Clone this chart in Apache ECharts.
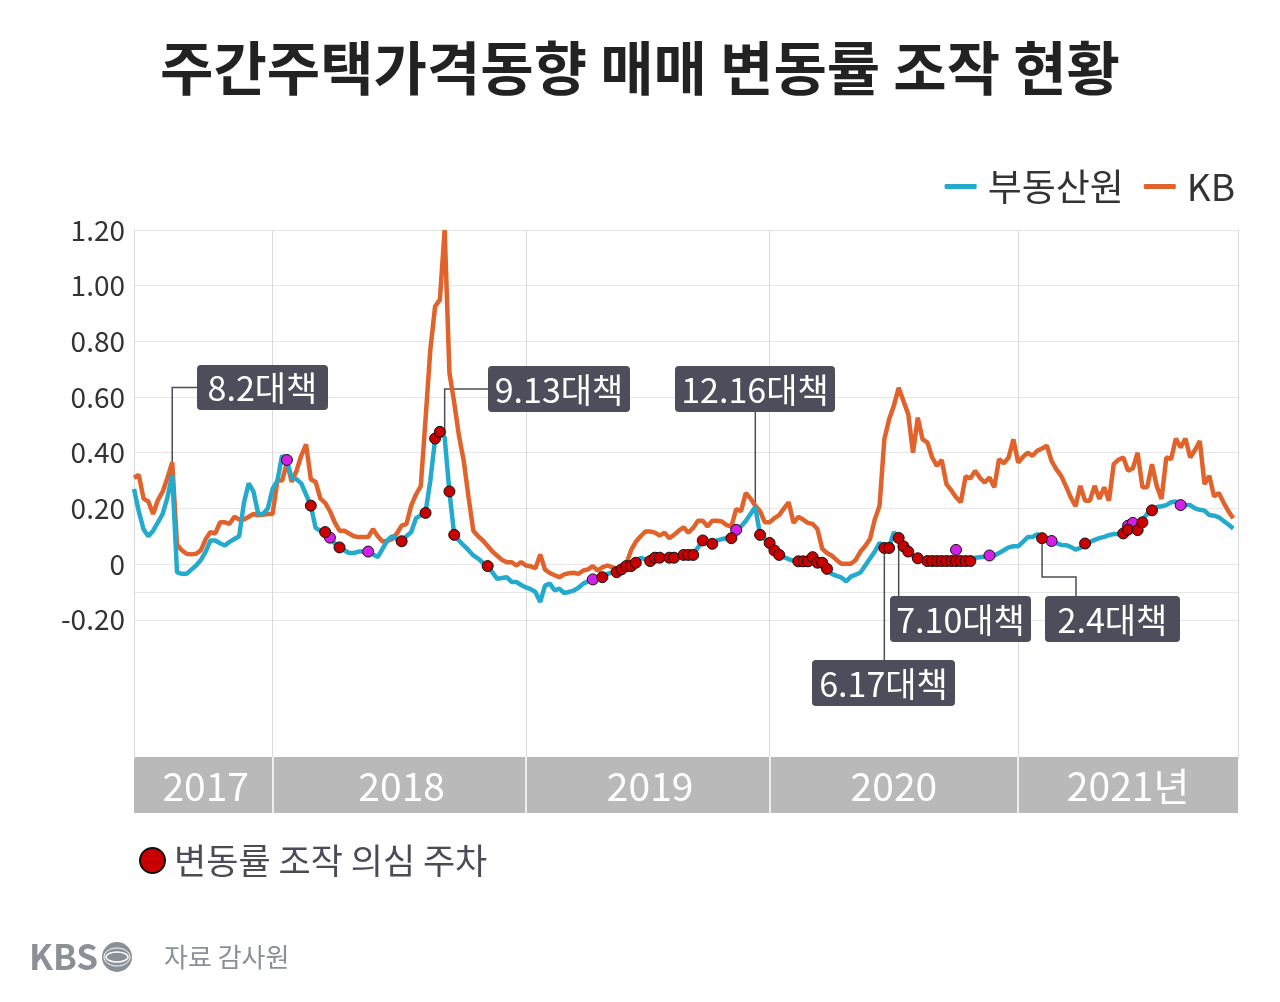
<!DOCTYPE html>
<html><head><meta charset="utf-8">
<script src="https://cdn.jsdelivr.net/npm/echarts@6/dist/echarts.min.js"></script>
<style>html,body{margin:0;padding:0;background:#fff}#c{width:1280px;height:1002px}</style>
</head><body><div id="c"></div>
<script>
// ---------- data ----------
const startDate = '2017-06-12';
const weekCount = 232;
const yearBreaks = [0, 29, 82, 133, 185, 231];
const yearLabels = ['2017', '2018', '2019', '2020', '2021년'];
const yearLabelIdx = [15, 56, 108, 159, 208];
const yLabels = [1.2, 1.0, 0.8, 0.6, 0.4, 0.2, 0, -0.2];
const gridLines = [1.2, 1.0, 0.8, 0.6, 0.4, 0.2, 0, -0.1, -0.2];

// 부동산원 weekly change (%)
const reb = [
 0.27,0.19,0.125,0.10,0.12,0.15,0.18,0.24,0.32,-0.03,
 -0.035,-0.035,-0.02,-0.005,0.015,0.045,0.085,0.085,0.075,0.067,
 0.08,0.09,0.10,0.22,0.29,0.26,0.18,0.18,0.20,0.27,
 0.30,0.39,0.37,0.31,0.305,0.29,0.25,0.21,0.13,0.12,
 0.115,0.095,0.075,0.06,0.05,0.04,0.04,0.045,0.045,0.045,
 0.035,0.025,0.055,0.085,0.10,0.09,0.085,0.10,0.115,0.165,
 0.175,0.186,0.30,0.448,0.472,0.455,0.26,0.105,0.085,0.067,
 0.05,0.031,0.02,0.005,-0.008,-0.03,-0.053,-0.05,-0.047,-0.064,
 -0.064,-0.075,-0.084,-0.09,-0.10,-0.136,-0.077,-0.07,-0.094,-0.088,
 -0.104,-0.10,-0.095,-0.085,-0.07,-0.062,-0.055,-0.05,-0.045,-0.036,
 -0.03,-0.027,-0.017,-0.007,-0.005,0.007,0.022,0.018,0.012,0.023,
 0.023,0.03,0.023,0.023,0.03,0.033,0.033,0.035,0.06,0.085,
 0.08,0.073,0.085,0.09,0.093,0.093,0.123,0.135,0.155,0.18,
 0.205,0.105,0.09,0.075,0.05,0.033,0.025,0.018,0.012,0.01,
 0.01,0.01,0.025,0.005,0.005,-0.017,-0.035,-0.042,-0.048,-0.062,
 -0.045,-0.038,-0.03,-0.005,0.02,0.045,0.076,0.061,0.061,0.115,
 0.094,0.064,0.045,0.03,0.021,0.013,0.011,0.011,0.011,0.011,
 0.011,0.011,0.011,0.011,0.011,0.011,0.023,0.025,0.027,0.03,
 0.031,0.04,0.05,0.06,0.064,0.064,0.08,0.097,0.097,0.108,
 0.094,0.09,0.083,0.075,0.069,0.068,0.062,0.052,0.058,0.073,
 0.08,0.087,0.093,0.098,0.104,0.108,0.108,0.112,0.125,0.135,
 0.14,0.158,0.18,0.196,0.205,0.208,0.212,0.222,0.225,0.212,
 0.212,0.212,0.20,0.195,0.192,0.176,0.174,0.168,0.155,0.142,
 0.128
];

// KB weekly change (%)
const kb = [
 0.31,0.32,0.235,0.225,0.18,0.23,0.26,0.31,0.365,0.07,
 0.05,0.037,0.035,0.037,0.05,0.09,0.115,0.11,0.15,0.15,
 0.145,0.17,0.16,0.16,0.17,0.18,0.175,0.177,0.18,0.18,
 0.30,0.30,0.365,0.295,0.335,0.39,0.43,0.305,0.295,0.235,
 0.22,0.19,0.15,0.12,0.12,0.11,0.10,0.097,0.097,0.097,
 0.126,0.10,0.081,0.083,0.09,0.11,0.138,0.144,0.21,0.25,
 0.28,0.52,0.77,0.925,0.95,1.20,0.687,0.58,0.46,0.37,
 0.24,0.12,0.10,0.085,0.065,0.045,0.03,0.015,0.007,0.007,
 -0.005,0.007,-0.005,-0.008,-0.015,0.035,-0.02,-0.032,-0.04,-0.047,
 -0.037,-0.033,-0.031,-0.035,-0.023,-0.019,-0.007,-0.023,-0.012,-0.005,
 -0.011,-0.017,-0.01,0.0,0.05,0.08,0.10,0.117,0.117,0.113,
 0.102,0.113,0.093,0.105,0.12,0.132,0.113,0.13,0.156,0.156,
 0.135,0.156,0.156,0.153,0.14,0.135,0.198,0.19,0.255,0.236,
 0.21,0.19,0.15,0.15,0.165,0.176,0.20,0.222,0.148,0.17,
 0.16,0.148,0.144,0.126,0.055,0.04,0.03,0.015,0.001,0.001,
 0.001,0.015,0.045,0.065,0.09,0.16,0.21,0.448,0.52,0.57,
 0.633,0.586,0.538,0.40,0.526,0.448,0.437,0.383,0.353,0.374,
 0.287,0.265,0.24,0.222,0.315,0.308,0.335,0.31,0.293,0.311,
 0.276,0.377,0.362,0.383,0.448,0.365,0.385,0.40,0.389,0.407,
 0.415,0.425,0.37,0.34,0.317,0.28,0.24,0.208,0.281,0.228,
 0.228,0.281,0.234,0.276,0.228,0.359,0.375,0.383,0.335,0.344,
 0.40,0.276,0.276,0.359,0.28,0.234,0.383,0.377,0.451,0.419,
 0.451,0.383,0.41,0.442,0.287,0.317,0.243,0.255,0.22,0.19,
 0.165
];

// suspected weeks [weekIndex, value]
const redDots = [
 [37,0.21],[40,0.115],[43,0.06],[56,0.082],[61,0.184],[63,0.451],[64,0.475],[66,0.261],[67,0.105],[74,-0.007],
 [98,-0.047],[101,-0.029],[102,-0.019],[103,-0.007],[104,-0.007],[105,0.005],[108,0.011],[109,0.023],[110,0.023],
 [112,0.023],[113,0.023],[115,0.033],[116,0.033],[117,0.033],[119,0.085],[121,0.073],[125,0.093],
 [131,0.105],[133,0.076],[134,0.049],[135,0.033],[139,0.01],[140,0.01],[141,0.01],[142,0.025],[143,0.005],
 [144,0.005],[145,-0.017],
 [157,0.058],[158,0.058],[160,0.094],[161,0.064],[162,0.045],[164,0.021],
 [166,0.011],[167,0.011],[168,0.011],[169,0.011],[170,0.011],[171,0.011],[172,0.011],[173,0.011],[174,0.011],[175,0.011],
 [190,0.093],[199,0.074],[207,0.11],[208,0.124],[210,0.122],[211,0.15],[213,0.193]
];
const magentaDots = [
 [32,0.374],[41,0.095],[49,0.045],[96,-0.055],[126,0.123],[172,0.051],[179,0.031],
 [192,0.083],[208,0.138],[209,0.148],[219,0.212]
];

// policy annotations
const policies = [
 {text:'8.2대책',  series:'kb',  idx:8,   box:[197,365,131,45], path:'upRight'},
 {text:'9.13대책', series:'reb', idx:65,  box:[488,366,142,46], path:'upRight'},
 {text:'12.16대책',series:'reb', idx:130, box:[675,366,160,46], path:'up'},
 {text:'6.17대책', series:'reb', idx:157, box:[812,660,143,46], path:'down'},
 {text:'7.10대책', series:'reb', idx:160, box:[890,596,141,46], path:'down'},
 {text:'2.4대책',  series:'reb', idx:190, box:[1045,596,135,46], path:'elbow', elbowY:577, elbowX:1076}
];

// ---------- build ----------
const categories = [];
{
  const d0 = new Date(startDate + 'T00:00:00Z');
  for (let i = 0; i < weekCount; i++) {
    const d = new Date(d0.getTime() + i * 7 * 86400000);
    categories.push(d.toISOString().slice(0, 10));
  }
}
const CJK = '"Noto Sans CJK KR", sans-serif';
const yMin = -0.7, yMax = 1.2, yStep = 0.1;
const splitColors = [];
for (let k = 0; k <= Math.round((yMax - yMin) / yStep); k++) {
  const v = yMin + k * yStep;
  splitColors.push(gridLines.some(g => Math.abs(g - v) < 1e-6) ? '#e6e6e6' : 'rgba(0,0,0,0)');
}
const BLUE = '#24aacd', ORANGE = '#e1622a';

const chart = echarts.init(document.getElementById('c'), null, {renderer: 'canvas'});
chart.setOption({
  animation: false,
  backgroundColor: '#ffffff',
  title: {
    text: '주간주택가격동향 매매 변동률 조작 현황',
    left: 'center', top: 34,
    textStyle: {fontSize: 58, fontWeight: 'bold', color: '#222222', fontFamily: CJK}
  },
  legend: [
    {
      data: ['부동산원', 'KB'], right: 40, top: 163,
      icon: 'roundRect', itemWidth: 32, itemHeight: 5, itemGap: 20,
      textStyle: {fontSize: 37, color: '#333333', fontFamily: CJK, padding: [0, 0, 0, 6]}
    },
    {
      data: ['변동률 조작 의심 주차'], left: 134, top: 838,
      itemWidth: 25, itemHeight: 25,
      textStyle: {fontSize: 35, color: '#4b4b57', fontFamily: CJK, padding: [0, 0, 0, 4]}
    }
  ],
  grid: [
    {left: 134, right: 42, top: 230, bottom: 243},
    {left: 134, right: 42, top: 757, height: 56, show: true, backgroundColor: '#b9b9b9', borderWidth: 0}
  ],
  xAxis: [
    {
      type: 'category', gridIndex: 0, data: categories, boundaryGap: false,
      axisLine: {show: false}, axisTick: {show: false}, axisLabel: {show: false},
      splitLine: {show: true, interval: (i) => yearBreaks.indexOf(i) >= 0, lineStyle: {color: '#d9d9d9', width: 1}}
    },
    {
      type: 'category', gridIndex: 1, data: categories, boundaryGap: false, position: 'bottom',
      axisLine: {show: false}, axisTick: {show: false},
      axisLabel: {
        show: true, inside: true, margin: 27, verticalAlign: 'middle',
        interval: (i) => yearLabelIdx.indexOf(i) >= 0,
        formatter: (v, i) => { const k = yearLabelIdx.indexOf(i); return k >= 0 ? yearLabels[k] : ''; },
        color: '#ffffff', fontSize: 39, fontFamily: CJK
      },
      splitLine: {show: true, interval: (i) => yearBreaks.indexOf(i) > 0 && i < weekCount - 1, lineStyle: {color: '#ffffff', width: 1.5}}
    }
  ],
  yAxis: [
    {
      type: 'value', gridIndex: 0, min: yMin, max: yMax, interval: yStep,
      axisLine: {show: false}, axisTick: {show: false},
      axisLabel: {
        margin: 9, color: '#333333', fontSize: 28, fontFamily: CJK,
        formatter: (v) => {
          const hit = yLabels.find(l => Math.abs(l - v) < 1e-6);
          if (hit === undefined) return '';
          return Math.abs(hit) < 1e-9 ? '0' : hit.toFixed(2);
        }
      },
      splitLine: {show: true, lineStyle: {color: splitColors, width: 1}}
    },
    {type: 'value', gridIndex: 1, min: 0, max: 1, show: false}
  ],
  series: [
    {name: 'KB', type: 'line', data: kb, symbol: 'none', lineStyle: {color: ORANGE, width: 4.5}, itemStyle: {color: ORANGE}, z: 2},
    {name: '부동산원', type: 'line', data: reb, symbol: 'none', lineStyle: {color: BLUE, width: 4.5}, itemStyle: {color: BLUE}, z: 3},
    {name: '기타 표시 주차', type: 'scatter', data: magentaDots, symbolSize: 11,
     itemStyle: {color: '#d41fe8', borderColor: '#111111', borderWidth: 1, opacity: 1}, z: 4},
    {name: '변동률 조작 의심 주차', type: 'scatter', data: redDots, symbolSize: 11,
     itemStyle: {color: '#c90000', borderColor: '#111111', borderWidth: 1, opacity: 1}, z: 5}
  ]
});

// annotations anchored to data via the library's own scales
const seriesData = {reb: reb, kb: kb};
const g = [];
policies.forEach(p => {
  const [ax, ay] = chart.convertToPixel({xAxisIndex: 0, yAxisIndex: 0}, [p.idx, seriesData[p.series][p.idx]]);
  const [bx, by, bw, bh] = p.box;
  let pts;
  if (p.path === 'upRight') pts = [[ax, ay], [ax, by + bh / 2], [bx, by + bh / 2]];
  else if (p.path === 'up') pts = [[ax, ay], [ax, by + bh]];
  else if (p.path === 'down') pts = [[ax, ay], [ax, by]];
  else pts = [[ax, ay], [ax, p.elbowY], [p.elbowX, p.elbowY], [p.elbowX, by]];
  g.push({type: 'polyline', shape: {points: pts}, style: {stroke: '#4a4f55', lineWidth: 1.5, fill: null}, z: 1, silent: true});
  g.push({type: 'rect', shape: {x: bx, y: by, width: bw, height: bh, r: 4}, style: {fill: '#4e4d5b'}, z: 10, silent: true});
  g.push({type: 'text', x: bx + bw / 2, y: by + bh / 2 + 1,
    style: {text: p.text, fill: '#ffffff', fontSize: 34, fontFamily: CJK, align: 'center', verticalAlign: 'middle'}, z: 11, silent: true});
});
// footer
g.push({type: 'text', x: 29, y: 957, style: {text: 'KBS', fill: '#8b9097', fontSize: 35, fontWeight: 'bold', fontFamily: CJK, verticalAlign: 'middle'}, silent: true});
g.push({type: 'circle', shape: {cx: 117, cy: 957, r: 15}, style: {fill: '#8b9097'}, silent: true});
g.push({type: 'ellipse', shape: {cx: 117, cy: 957, rx: 11, ry: 5}, style: {fill: null, stroke: '#ffffff', lineWidth: 1.5}, silent: true});
g.push({type: 'ellipse', shape: {cx: 117, cy: 957, rx: 13, ry: 9}, style: {fill: null, stroke: '#ffffff', lineWidth: 1}, silent: true});
g.push({type: 'text', x: 164, y: 957, style: {text: '자료 감사원', fill: '#8b9097', fontSize: 26, fontFamily: CJK, verticalAlign: 'middle'}, silent: true});
chart.setOption({graphic: g});
</script>
</body></html>
